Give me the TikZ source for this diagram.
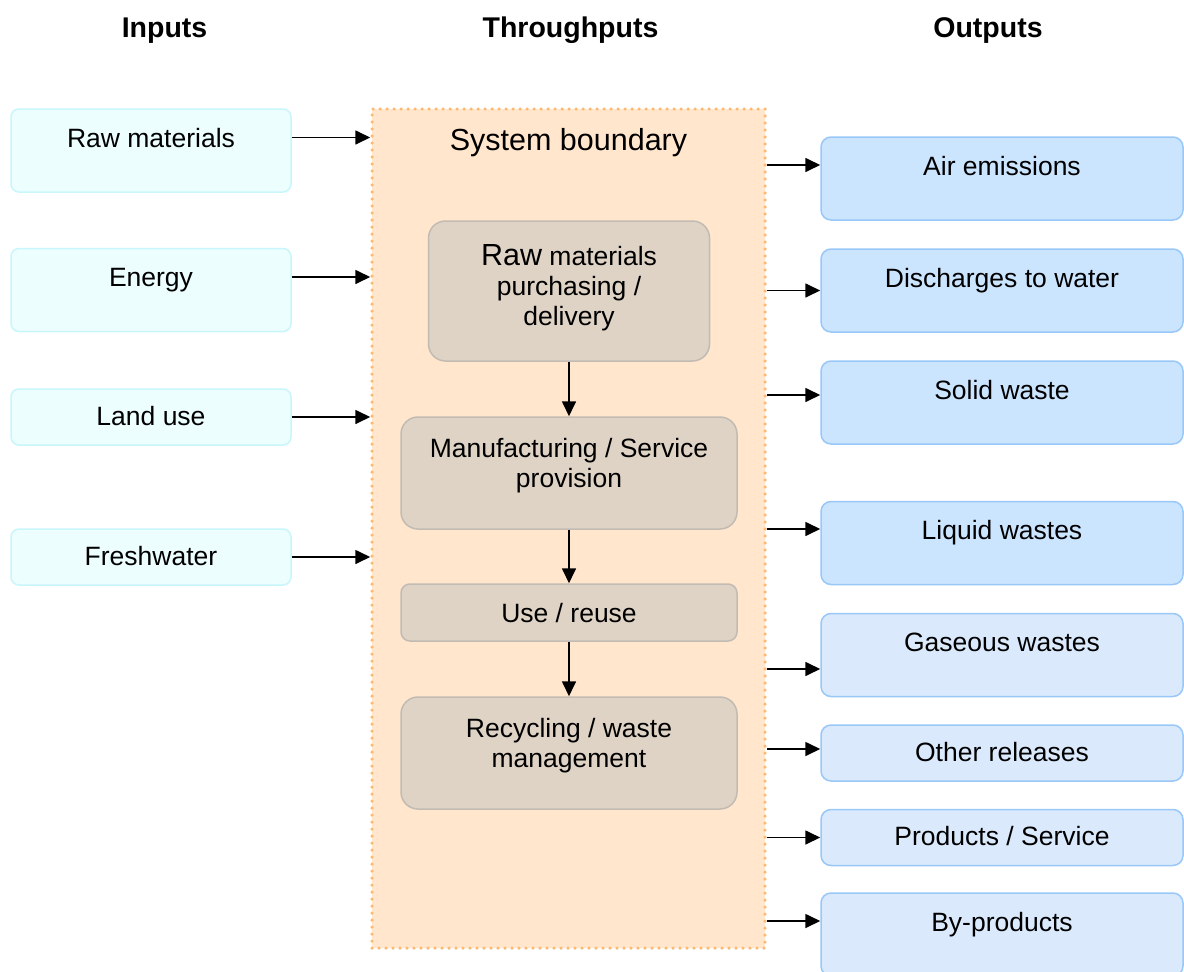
\documentclass[tikz,border=0pt]{standalone}
\usepackage{fontspec}
\setmainfont{Liberation Sans}
\usetikzlibrary{arrows.meta}
\definecolor{infill}{HTML}{EDFEFF}
\definecolor{indraw}{HTML}{C8F6FA}
\definecolor{outfillA}{HTML}{CCE5FF}
\definecolor{outfillB}{HTML}{DAEAFC}
\definecolor{outdraw}{HTML}{99C7F7}
\definecolor{stepfill}{HTML}{DFD3C6}
\definecolor{stepdraw}{HTML}{C2BBB3}
\definecolor{boundfill}{HTML}{FFE6CC}
\definecolor{bounddraw}{HTML}{FFB870}
\begin{document}
\begin{tikzpicture}[x=1pt,y=-1pt,
	txt/.style={font=\fontsize{26.5}{30}\selectfont,align=center,inner sep=0pt},
	head/.style={font=\fontsize{28.5}{30}\selectfont\bfseries,anchor=base,inner sep=0pt},
	tall/.style={text height=38pt,text depth=45pt},
	low/.style={text height=36pt,text depth=20pt},
	inbox/.style={txt,draw=indraw,fill=infill,line width=1.5pt,rounded corners=8pt,minimum width=280pt},
	outbox/.style={txt,draw=outdraw,fill=#1,line width=1.5pt,rounded corners=10pt,minimum width=362pt},
	stepbox/.style={txt,draw=stepdraw,fill=stepfill,line width=1.5pt,rounded corners=17pt,minimum width=336pt},
	bound/.style={txt,font=\fontsize{30.5}{30}\selectfont,fill=boundfill,draw=bounddraw,line width=3.5pt,
		line cap=round,dash pattern=on 0pt off 7pt,minimum width=393pt,text height=41pt,text depth=798pt},
	flow/.style={-{Triangle[length=15pt,width=14pt]},line width=1.7pt}]
\useasboundingbox (0,0) rectangle (1184,972);
%headers
\node[head] (hin) at (164.5,37.5) {Inputs};
\node[head] (hthru) at (570.5,37.5) {Throughputs};
\node[head] (hout) at (988,37.5) {Outputs};
%inputs
\node[inbox,tall] (rawin) at (151,150.5) {Raw materials};
\node[inbox,tall] (energy) at (151,290) {Energy};
\node[inbox,low] (land) at (151,417) {Land use};
\node[inbox,low] (fresh) at (151,557) {Freshwater};
%system boundary
\node[bound] (sb) at (568.5,528.5) {System boundary};
\node[stepbox,minimum width=281pt,text height=104pt,text depth=36pt] (buy) at (569,291)
	{{\fontsize{30.5}{30}\selectfont Raw} materials\\purchasing /\\delivery};
\node[stepbox,text height=70pt,text depth=42pt] (make) at (569,473) {Manufacturing / Service\\provision};
\node[stepbox,rounded corners=9pt,text height=38pt,text depth=19pt] (use) at (569,612.5) {Use / reuse};
\node[stepbox,text height=70pt,text depth=42pt] (recyc) at (569,753) {Recycling / waste\\management};
\draw[flow] (buy) -- (make);
\draw[flow] (make) -- (use);
\draw[flow] (use) -- (recyc);
%outputs
\node[outbox=outfillA,tall] (air) at (1002,178.5) {Air emissions};
\node[outbox=outfillA,tall] (disch) at (1002,290.5) {Discharges to water};
\node[outbox=outfillA,tall] (solid) at (1002,402.5) {Solid waste};
\node[outbox=outfillA,tall] (liquid) at (1002,543) {Liquid wastes};
\node[outbox=outfillB,tall] (gas) at (1002,655) {Gaseous wastes};
\node[outbox=outfillB,low] (other) at (1002,753) {Other releases};
\node[outbox=outfillB,low] (prod) at (1002,837.5) {Products / Service};
\node[outbox=outfillB,tall] (byp) at (1002,934.5) {By-products};
%input arrows
\draw[flow] ([yshift=13pt]rawin.east) -- ([yshift=13pt]rawin.east -| sb.west);
\draw[flow] ([yshift=13pt]energy.east) -- ([yshift=13pt]energy.east -| sb.west);
\draw[flow] (land.east) -- (land.east -| sb.west);
\draw[flow] (fresh.east) -- (fresh.east -| sb.west);
%output arrows
\draw[flow] ([yshift=13.5pt]air.west -| sb.east) -- ([yshift=13.5pt]air.west);
\draw[flow] (disch.west -| sb.east) -- (disch.west);
\draw[flow] ([yshift=7.5pt]solid.west -| sb.east) -- ([yshift=7.5pt]solid.west);
\draw[flow] ([yshift=14pt]liquid.west -| sb.east) -- ([yshift=14pt]liquid.west);
\draw[flow] ([yshift=-14pt]gas.west -| sb.east) -- ([yshift=-14pt]gas.west);
\draw[flow] ([yshift=4pt]other.west -| sb.east) -- ([yshift=4pt]other.west);
\draw[flow] (prod.west -| sb.east) -- (prod.west);
\draw[flow] ([yshift=13.5pt]byp.west -| sb.east) -- ([yshift=13.5pt]byp.west);
\end{tikzpicture}
\end{document}
